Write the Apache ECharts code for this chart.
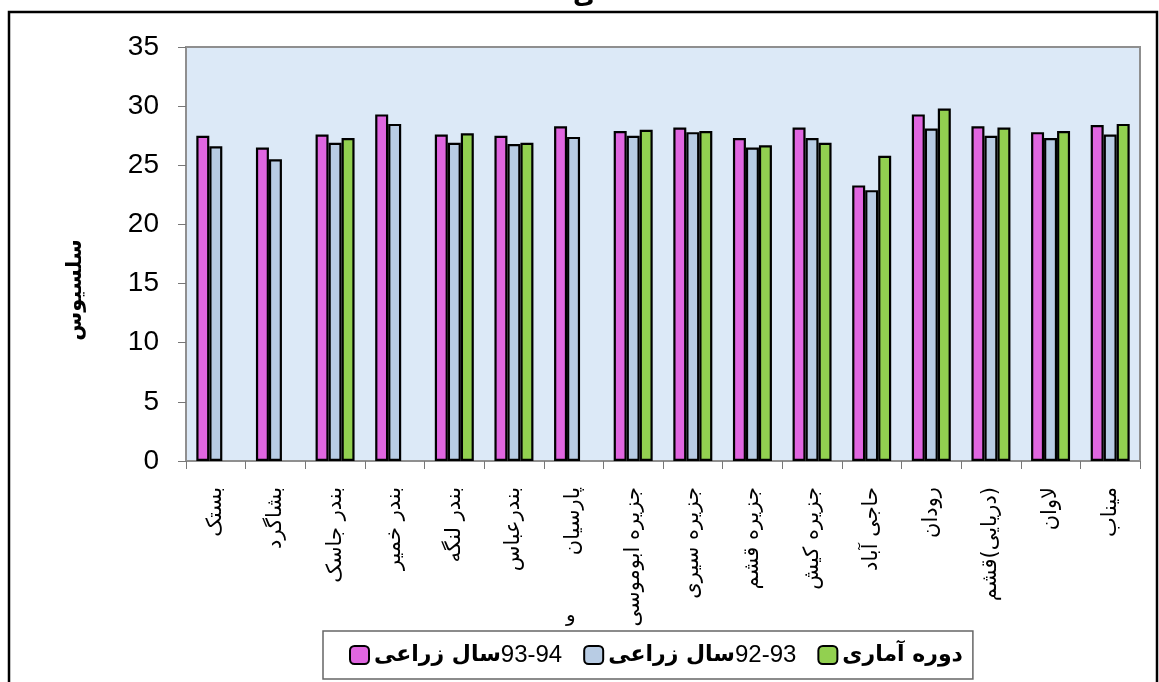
<!DOCTYPE html>
<html>
<head>
<meta charset="utf-8">
<script src="https://cdn.jsdelivr.net/npm/echarts@6/dist/echarts.min.js"></script>
<style>
html,body{margin:0;padding:0;background:#fff;}
#chart{width:1159px;height:682px;}
</style>
</head>
<body>
<div id="chart"></div>
<script>
const categories = ['بستک','بشاگرد','بندر جاسک','بندر خمیر','بندر لنگه','بندرعباس','پارسیان','جزیره ابوموسی','جزیره سیری','جزیره قشم','جزیره کیش','حاجی آباد','رودان','\u200F(دریایی)قشم','لاوان','میناب'];
const seriesNames = ['سال زراعی93-94','سال زراعی92-93','دوره آماری'];
const legendWords = ['سال زراعی','سال زراعی','دوره آماری'];
const legendYears = ['93-94','92-93',''];
const year9394 = [27.5, 26.5, 27.6, 29.3, 27.6, 27.5, 28.3, 27.9, 28.2, 27.3, 28.2, 23.3, 29.3, 28.3, 27.8, 28.4];
const year9293 = [26.6, 25.5, 26.9, 28.5, 26.9, 26.8, 27.4, 27.5, 27.8, 26.5, 27.3, 22.9, 28.1, 27.5, 27.3, 27.6];
const longTerm = [null, null, 27.3, null, 27.7, 26.9, null, 28.0, 27.9, 26.7, 26.9, 25.8, 29.8, 28.2, 27.9, 28.5];
const yTicks = {min: 0, max: 35, interval: 5};
const yAxisTitle = 'سلسیوس';

const colors = ['#e066e0', '#b8cce4', '#92d050'];
const values = [year9394, year9293, longTerm];

const chart = echarts.init(document.getElementById('chart'));
chart.setOption({
  animation: false,
  textStyle: {fontFamily: 'DejaVu Sans'},
  grid: {left: 186, top: 47, right: 19, bottom: 221, show: true,
         backgroundColor: '#dce9f7', borderColor: '#8f8f8f', borderWidth: 2},
  xAxis: {
    type: 'category', data: categories,
    axisLine: {lineStyle: {color: '#8f8f8f', width: 1}},
    axisTick: {show: true, length: 8, lineStyle: {color: '#777'}},
    axisLabel: {rotate: 90, margin: 26, fontSize: 21, color: '#000', fontFamily: 'DejaVu Sans'}
  },
  yAxis: {
    type: 'value', min: yTicks.min, max: yTicks.max, interval: yTicks.interval,
    axisLine: {show: true, lineStyle: {color: '#8f8f8f', width: 1}},
    axisTick: {show: true, length: 8, lineStyle: {color: '#777'}},
    splitLine: {show: false},
    axisLabel: {fontSize: 28, color: '#000', margin: 27, fontFamily: 'Liberation Sans'}
  },
  legend: {
    left: 323, top: 631, orient: 'horizontal',
    padding: [12, 10, 12, 26], itemGap: 21,
    itemWidth: 19, itemHeight: 18,
    backgroundColor: '#fff', borderColor: '#666', borderWidth: 1.5, borderRadius: 0,
    data: seriesNames,
    formatter: function (name) {
      const i = seriesNames.indexOf(name);
      return '{fa|' + legendWords[i] + '}' + (legendYears[i] ? '{num|' + legendYears[i] + '}' : '');
    },
    textStyle: {
      rich: {
        fa: {fontSize: 22, fontWeight: 'bold', fontFamily: 'DejaVu Sans', color: '#000'},
        num: {fontSize: 24, fontFamily: 'Liberation Sans', color: '#000'}
      }
    }
  },
  graphic: [
    {type: 'polyline', shape: {points: [[9, 700], [9, 12], [1157, 12], [1157, 700]]},
     style: {stroke: '#000', lineWidth: 2.5, fill: null}, silent: true},
    {type: 'text', left: 573, top: -15, style: {text: 'ی', font: 'bold 24px "DejaVu Sans"', fill: '#000'}},
    {type: 'text', left: 566, top: 606, z: -1, style: {text: 'و', font: '20px "DejaVu Sans"', fill: '#000'}},
    {type: 'text', x: 76, y: 290, rotation: Math.PI / 2,
     style: {text: yAxisTitle, font: 'bold 21px "DejaVu Sans"', fill: '#000', align: 'center', verticalAlign: 'middle'}}
  ],
  series: seriesNames.map((n, i) => ({
    name: n, type: 'bar', data: values[i],
    barWidth: 13, barGap: '0%',
    itemStyle: {color: colors[i], borderColor: '#000', borderWidth: 2.2}
  }))
});
</script>
</body>
</html>
